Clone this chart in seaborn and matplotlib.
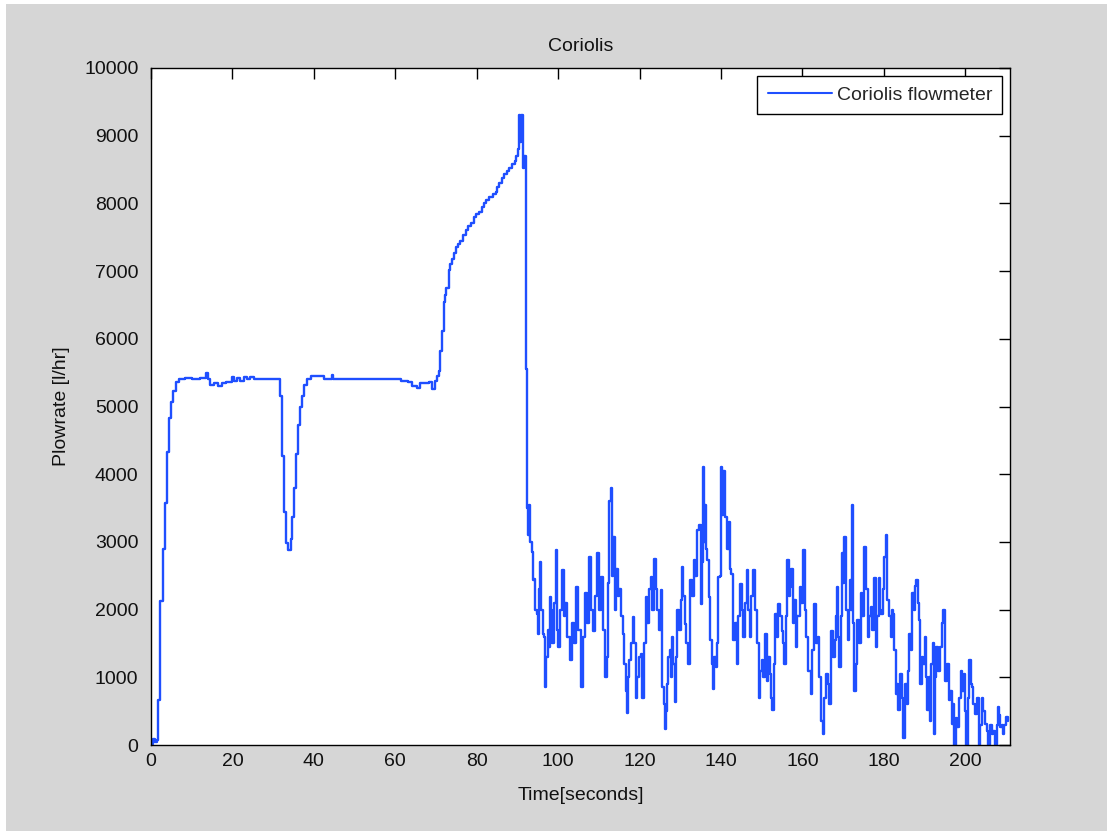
import numpy as np
import matplotlib
matplotlib.use("Agg")
import matplotlib.pyplot as plt
import pandas as pd
import seaborn as sns

# start-up, dip and ramp (0 - 92 s)
time_start = [0.0, 0.3, 0.6, 1.0, 1.4, 1.8, 2.2, 2.9, 3.4, 3.9, 4.4, 4.8, 5.4, 6.2, 7.0,
              8.3, 10.0, 12.0, 13.4, 14.0, 14.5, 15.5, 16.5, 17.4, 18.5, 19.8, 20.4,
              21.1, 21.8, 22.9, 23.6, 24.4, 25.2, 31.7, 32.2, 32.6, 33.2, 33.7, 34.3,
              34.7, 35.1, 35.5, 36.1, 36.6, 37.2, 37.6, 38.4, 39.3, 42.6, 44.4, 44.8,
              60.0, 61.5, 63.2, 64.0, 65.3, 66.0, 68.2, 69.0, 69.8, 70.2, 70.7, 71.1,
              71.5, 71.9, 72.2, 72.5, 73.1, 73.5, 74.0, 74.4, 74.8, 75.4, 76.0, 76.6,
              77.3, 77.9, 78.5, 79.3, 79.9, 80.6, 81.2, 81.8, 82.4, 83.1, 83.9, 84.7,
              85.1, 85.5, 86.2, 86.8, 87.4, 88.0, 88.6, 89.3, 89.7, 90.1, 90.4, 90.7,
              91.0, 91.3, 91.7]
flow_start = [60, 20, 90, 40, 70, 660, 2120, 2900, 3570, 4330, 4830, 5060, 5225, 5360, 5400,
              5420, 5410, 5420, 5490, 5400, 5320, 5340, 5310, 5350, 5360, 5430, 5380,
              5420, 5370, 5430, 5400, 5430, 5410, 5160, 4270, 3440, 2980, 2880, 3040,
              3370, 3800, 4300, 4730, 5000, 5160, 5320, 5400, 5450, 5410, 5460, 5410,
              5400, 5380, 5360, 5300, 5280, 5340, 5360, 5260, 5370, 5450, 5520, 5820,
              6120, 6550, 6650, 6750, 7020, 7100, 7180, 7270, 7350, 7400, 7440, 7530,
              7610, 7660, 7710, 7800, 7840, 7870, 7940, 8000, 8050, 8100, 8140, 8170,
              8240, 8300, 8370, 8430, 8480, 8530, 8580, 8630, 8700, 8800, 9300, 8900,
              9300, 8530, 8700]

# noisy part after the drop (92 - 211 s)
time_noisy = [92.0, 92.3, 92.6, 92.9, 93.2, 93.5, 93.8, 94.1, 94.4, 94.7, 95.0, 95.3, 95.6,
              95.9, 96.2, 96.5, 96.8, 97.1, 97.4, 97.7, 98.0, 98.3, 98.6, 99.0, 99.4,
              99.7, 100.0, 100.5, 101.0, 101.4, 101.8, 102.3, 102.8, 103.3, 103.8, 104.5,
              105.0, 105.7, 106.1, 106.5, 107.0, 107.7, 108.1, 108.5, 109.0, 109.6, 110.1,
              110.6, 111.1, 111.6, 112.0, 112.3, 112.6, 112.9, 113.2, 113.6, 114.0, 114.3,
              114.6, 115.0, 115.4, 115.9, 116.3, 116.7, 116.9, 117.2, 117.5, 117.9, 118.3,
              118.7, 119.1, 119.5, 119.9, 120.3, 120.6, 121.0, 121.5, 121.9, 122.3, 122.7,
              123.1, 123.5, 124.0, 124.4, 124.8, 125.2, 125.6, 126.0, 126.2, 126.5, 126.8,
              127.1, 127.4, 127.7, 128.0, 128.3, 128.6, 129.0, 129.3, 129.7, 130.1, 130.5,
              130.8, 131.1, 131.5, 132.0, 132.3, 132.5, 132.9, 133.3, 133.7, 134.1, 134.6,
              135.0, 135.3, 135.5, 135.8, 136.0, 136.3, 136.6, 137.0, 137.4, 137.7, 138.0,
              138.4, 138.7, 139.0, 139.3, 139.8, 140.1, 140.3, 140.5, 141.0, 141.4, 141.9,
              142.2, 142.5, 143.0, 143.4, 143.9, 144.3, 144.7, 145.1, 145.5, 145.9, 146.3,
              146.7, 147.1, 147.5, 147.9, 148.3, 148.8, 149.3, 149.6, 150.0, 150.4, 150.7,
              151.2, 151.6, 152.0, 152.3, 152.6, 153.0, 153.3, 153.7, 154.1, 154.5, 154.9,
              155.2, 155.5, 155.9, 156.3, 156.6, 156.9, 157.3, 157.6, 158.0, 158.4, 158.8,
              159.3, 159.7, 160.2, 160.6, 161.0, 161.5, 162.0, 162.4, 162.9, 163.3, 163.8,
              164.2, 164.5, 165.0, 165.4, 165.9, 166.2, 166.5, 167.1, 167.5, 167.9, 168.2,
              168.5, 168.8, 169.1, 169.4, 169.7, 170.0, 170.3, 170.7, 171.1, 171.4, 171.7,
              172.0, 172.3, 172.5, 172.7, 173.1, 173.5, 173.9, 174.3, 174.7, 175.2, 175.6,
              176.0, 176.4, 176.8, 177.2, 177.6, 178.0, 178.3, 178.7, 179.0, 179.3, 179.7,
              180.1, 180.5, 180.9, 181.3, 181.7, 182.0, 182.3, 182.6, 182.9, 183.2, 183.6,
              183.9, 184.1, 184.5, 184.8, 185.2, 185.6, 185.9, 186.2, 186.6, 187.0, 187.4,
              187.7, 188.0, 188.3, 188.6, 189.0, 189.3, 189.6, 190.0, 190.3, 190.6, 191.0,
              191.3, 191.7, 192.1, 192.4, 192.7, 192.9, 193.4, 193.9, 194.2, 194.6, 195.1,
              195.5, 195.9, 196.3, 196.7, 197.0, 197.3, 197.7, 198.1, 198.5, 198.9, 199.2,
              199.6, 200.0, 200.3, 200.6, 200.9, 201.3, 201.7, 202.0, 202.4, 202.8, 203.3,
              203.6, 204.0, 204.4, 204.9, 205.3, 205.7, 206.1, 206.5, 206.9, 207.3, 207.7,
              208.1, 208.4, 208.6, 209.0, 209.3, 209.6, 209.9, 210.5]
flow_noisy = [5550, 3500, 3100, 3550, 3000, 2850, 2430, 2450, 2000, 1940, 1640, 2300, 2700,
              2000, 1640, 1600, 850, 1300, 1700, 1450, 2190, 2000, 1500, 2100, 2880,
              1700, 1450, 2000, 2580, 1900, 2100, 1600, 1250, 1800, 1500, 2330,
              1700, 850, 1600, 2240, 1800, 2780, 2000, 1690, 2200, 2830, 2000,
              2480, 1700, 1000, 1300, 2400, 3600, 3800, 2500, 3075, 2000, 2600,
              2200, 2300, 1900, 1640, 1200, 800, 480, 1000, 1250, 1500, 1890,
              1500, 700, 1000, 1300, 1350, 700, 1500, 2190, 1800, 2300, 2480,
              2000, 2750, 2300, 2000, 1700, 2290, 850, 600, 240, 500, 900,
              1300, 1400, 1000, 1600, 1200, 630, 1300, 2000, 1700, 2140, 2630,
              2200, 1790, 1500, 1200, 1800, 2430, 2200, 2730, 2500, 3170, 3250,
              2090, 2700, 4110, 3000, 3540, 2900, 2730, 2190, 1550, 1200, 830,
              1300, 1150, 1500, 2480, 2500, 4110, 3400, 4050, 3370, 2900, 3300,
              2600, 2530, 1550, 1800, 1200, 1900, 2380, 2000, 1600, 2100, 2580,
              2000, 1600, 2200, 2580, 2000, 1500, 700, 1100, 1250, 1000, 1640,
              950, 1300, 1050, 700, 510, 1200, 1940, 1600, 2090, 1900, 1690,
              1500, 1200, 1900, 2730, 2200, 2330, 2600, 1800, 2140, 1450, 1900,
              2330, 2100, 2880, 2000, 1600, 1100, 750, 1400, 2090, 1500, 1600,
              1000, 360, 160, 700, 1050, 900, 600, 1690, 1300, 1550, 1900,
              2330, 1600, 1150, 1900, 2830, 2400, 3075, 2000, 1550, 2000, 2430,
              2000, 3540, 1800, 800, 1200, 1840, 1500, 2240, 1900, 2930, 2300,
              1600, 1900, 2040, 1700, 2460, 1450, 1900, 2460, 2000, 1940, 2300,
              2780, 3100, 2140, 1900, 1600, 2000, 1940, 1400, 750, 900, 510,
              800, 1050, 700, 110, 900, 600, 1100, 1640, 1400, 2240, 2000,
              2350, 2430, 2100, 1840, 900, 1300, 1200, 1600, 1000, 510, 1000,
              360, 1200, 1500, 160, 1000, 1450, 1100, 1450, 1800, 2000, 950,
              1200, 660, 800, 310, 600, -100, 400, 260, 700, 1100, 800,
              1050, 500, -100, 700, 1250, 900, 850, 600, 460, 700, -100,
              300, 700, 500, 310, 200, -100, 300, 160, 200, -100, 300,
              560, 450, 260, 300, 160, 300, 410, 350]

x_ticks = [0, 20, 40, 60, 80, 100, 120, 140, 160, 180, 200]
y_ticks = [0, 1000, 2000, 3000, 4000, 5000, 6000, 7000, 8000, 9000, 10000]

df = pd.DataFrame({
    'time': time_start + time_noisy,
    'flow': flow_start + flow_noisy,
})

sns.set_theme(style='white')
plt.rcParams['font.family'] = ['Liberation Sans', 'DejaVu Sans']

W, H = 1107, 831
fig = plt.figure(figsize=(W / 100, H / 100), dpi=100, facecolor='white')
# grey figure area (thin white border top/left like the screenshot)
fig.patches.append(plt.Rectangle((6 / W, 0), 1, 1 - 4 / H, transform=fig.transFigure,
                                 facecolor='#d6d6d6', edgecolor='none', zorder=-10))
ax = fig.add_axes([151 / W, 1 - 745 / H, (1010 - 151) / W, (745 - 68) / H])
ax.set_facecolor('white')

sns.lineplot(data=df, x='time', y='flow', ax=ax, estimator=None, sort=False,
             color='#1f4fff', linewidth=1.7, drawstyle='steps-post',
             label='Coriolis flowmeter')

ax.set_xlim(0, 211)
ax.set_ylim(0, 10000)
ax.set_xticks(x_ticks)
ax.set_yticks(y_ticks)
ax.tick_params(axis='both', direction='in', length=8, width=1, color='black',
               labelsize=14, labelcolor='#111111', top=True, right=True)
ax.tick_params(axis='x', pad=6)
ax.tick_params(axis='y', pad=9)
for s in ax.spines.values():
    s.set_color('black')
    s.set_linewidth(1)

ax.set_title('Coriolis', fontsize=14, pad=12, color='#111111')
ax.set_xlabel('Time[seconds]', fontsize=14, labelpad=12, color='#111111')
ax.set_ylabel('Plowrate [l/hr]', fontsize=14, labelpad=10, color='#111111')

leg = ax.legend(loc='upper right', fontsize=14, frameon=True, fancybox=False,
                edgecolor='black', framealpha=1, handlelength=3.3, handletextpad=0.25,
                borderaxespad=0.4, borderpad=0.52)
leg.get_frame().set_linewidth(1)
for line in leg.get_lines():
    line.set_linewidth(1.5)

fig.savefig('out.png', dpi=100, facecolor=fig.get_facecolor())
